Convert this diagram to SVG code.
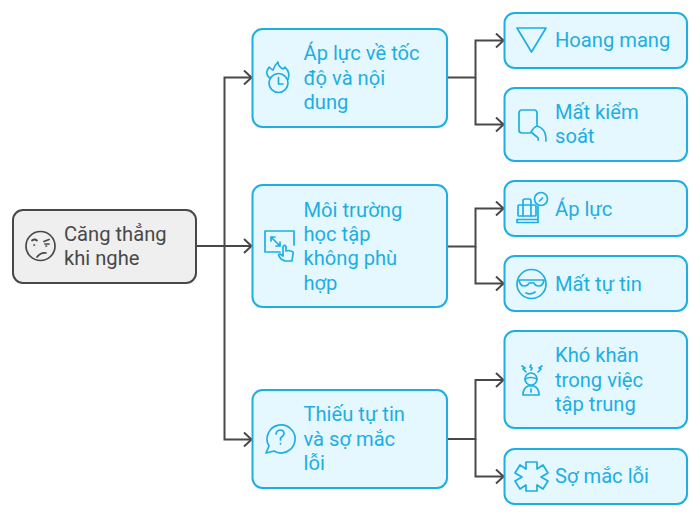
<svg xmlns="http://www.w3.org/2000/svg" width="700" height="517" viewBox="0 0 700 517">
<style>
.n{fill:#e5f7ff;stroke:#1eaee3;stroke-width:2}
.r{fill:#efefef;stroke:#484848;stroke-width:2}
text{font-family:Roboto,"Liberation Sans",sans-serif;font-size:20.150px;fill:#1eaee3}
.rt{fill:#484848}
.i{fill:none;stroke:#1eaee3;stroke-width:1.700;stroke-linecap:round;stroke-linejoin:round}
.ir{fill:none;stroke:#484848;stroke-width:1.700;stroke-linecap:round;stroke-linejoin:round}
.c{fill:none;stroke:#484848;stroke-width:2}
</style>
<defs><marker id="a" markerUnits="userSpaceOnUse" markerWidth="12" markerHeight="16" refX="10.500" refY="8" orient="auto"><path d="M2.500 1L10 8L2.500 15" fill="none" stroke="#484848" stroke-width="2"/></marker></defs>
<g id="connectors">
<path class="c" d="M196 246H252" marker-end="url(#a)"/>
<path class="c" d="M224.500 246V77.500H252" marker-end="url(#a)"/>
<path class="c" d="M224.500 246V439.500H252" marker-end="url(#a)"/>
<path class="c" d="M447 77.500H475.500V40.500H504" marker-end="url(#a)"/>
<path class="c" d="M475.500 77.500V124.500H504" marker-end="url(#a)"/>
<path class="c" d="M447 246.500H475.500V208.500H504" marker-end="url(#a)"/>
<path class="c" d="M475.500 246.500V283.500H504" marker-end="url(#a)"/>
<path class="c" d="M447 439H475.500V380H504" marker-end="url(#a)"/>
<path class="c" d="M475.500 439V476.500H504" marker-end="url(#a)"/>
</g>
<g id="root"><rect class="r" x="13" y="210" width="183" height="73" rx="10"/>
<g class="ir"><circle cx="40.500" cy="246" r="14.500"/><path d="M32 240.500q2.500-2 5 0M44 241.500l5-2M45 244l4 0M34 245h.5M46 246h.5M37 257q4-5 9-4"/></g>
<text class="rt" x="64" y="241">Căng thẳng</text><text class="rt" x="64" y="265">khi nghe</text></g>
<g id="n1"><rect class="n" x="252.500" y="29" width="194.500" height="98" rx="10"/>
<g class="i"><circle cx="278.500" cy="83" r="9.500"/><path d="M278.500 77.500V84H283M270 78c-2-1-4-4-3-7 .5-2 2-3 2-4 1 1 2 2 4 3 1-3 3-6 5-8 0 4 3 6 5 7 1-.5 2-1.500 2-2 3 3 5 7 3 12"/></g>
<text x="303.500" y="60">Áp lực về tốc</text><text x="303.500" y="85">độ và nội</text><text x="303.500" y="109">dung</text></g>
<g id="n2"><rect class="n" x="252.500" y="185" width="194.500" height="122" rx="10"/>
<g class="i"><path d="M280 252H265V231H294V245M271 237l9 9M271 237h4M271 237v4M280 246h-4M280 246v-4M292 261h-7l-4-2-2-3q-1-2 1-2l3 2V247q1-3 3-.5V251q4-1 4 0 4 0 3 3z"/></g>
<text x="303.500" y="216.500">Môi trường</text><text x="303.500" y="240.800">học tập</text><text x="303.500" y="265.200">không phù</text><text x="303.500" y="289.500">hợp</text></g>
<g id="n3"><rect class="n" x="252.500" y="390" width="194.500" height="98" rx="10"/>
<g class="i"><path d="M266 453l3-7a14 14 0 1 1 5 5z"/><path d="M276 434q1-4 4-4 4 0 4 3.500 0 2-3.500 4.500V440M280.500 443.500v.5"/></g>
<text x="303.500" y="421">Thiếu tự tin</text><text x="303.500" y="446">và sợ mắc</text><text x="303.500" y="470">lỗi</text></g>
<g id="h1"><rect class="n" x="504.500" y="13" width="182.500" height="55" rx="10"/>
<path class="i" d="M517 28H546L531.500 52z"/><text x="555" y="47">Hoang mang</text></g>
<g id="h2"><rect class="n" x="504.500" y="88" width="182.500" height="73" rx="10"/>
<g class="i"><path d="M530 133H522q-3 0-3-3V113q0-3 3-3h12q3 0 3 3v13M531 132q3-5 6-6 6 2 8 7 1 3 1 8M531 132l6 5q2 1 1 3"/></g>
<text x="555" y="119">Mất kiểm</text><text x="555" y="143">soát</text></g>
<g id="h3"><rect class="n" x="504.500" y="181" width="182.500" height="55" rx="10"/>
<g class="i"><rect x="518" y="205" width="18" height="11" rx="1"/><path d="M523 205v-4q0-2 2-2h4q2 0 2 2v4M523 205v11M531 205v11M517 219.500h21v3h-21zM538 219V206"/><circle cx="541" cy="199" r="6.500"/><path d="M539.500 201l3-3"/></g>
<text x="555" y="216">Áp lực</text></g>
<g id="h4"><rect class="n" x="504.500" y="256" width="182.500" height="55" rx="10"/>
<g class="i"><circle cx="531.500" cy="284" r="14.500"/><path d="M518 280H545M519 280q1 6 5 6 4 0 5-3h5q1 3 5 3 4 0 5-6M526 293q5 2 9-1"/></g>
<text x="555" y="291">Mất tự tin</text></g>
<g id="h5"><rect class="n" x="504.500" y="331" width="182.500" height="97" rx="10"/>
<g class="i"><circle cx="531" cy="379" r="6"/><path d="M525 379q6-3 12 0M523 395q0-7 5-9h6q5 2 5 9zM531 389v3M522 366l3 2-2 1 3 3M531 365l-1 2 2 1-1 2M542 366l-3 2 2 1-3 3"/></g>
<text x="555" y="362">Khó khăn</text><text x="555" y="387">trong việc</text><text x="555" y="411">tập trung</text></g>
<g id="h6"><rect class="n" x="504.500" y="449" width="182.500" height="55" rx="10"/>
<path class="i" d="M526 462H537V469L543 465L548 473L541 477L548 481L543 489L537 485V491H526V485L520 489L515 481L522 477L515 473L520 465L526 469z"/>
<text x="555" y="483">Sợ mắc lỗi</text></g>
</svg>
